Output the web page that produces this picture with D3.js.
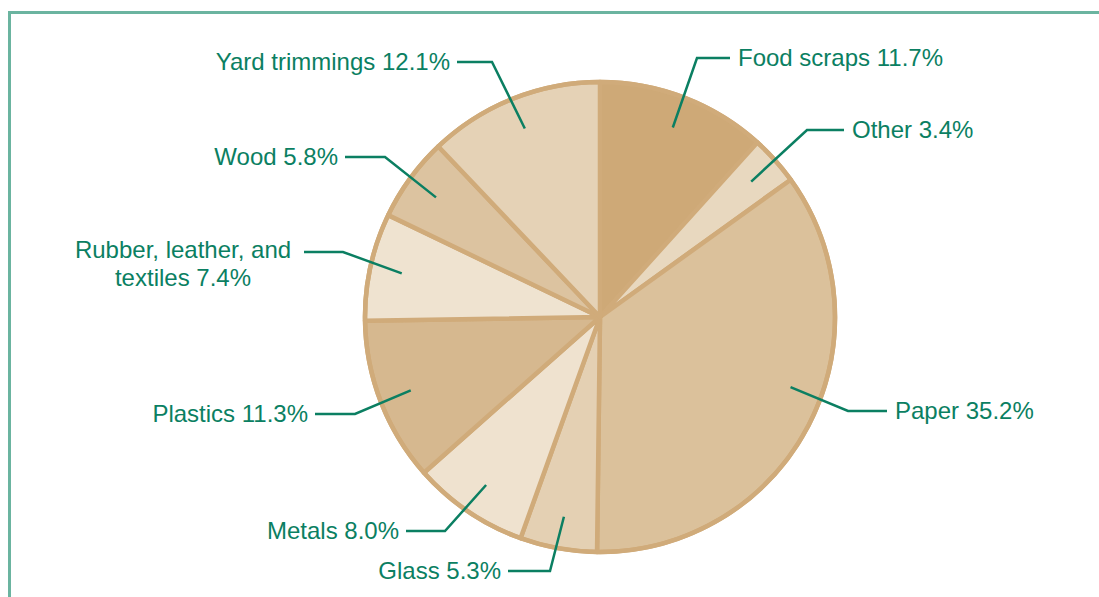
<!DOCTYPE html>
<html>
<head>
<meta charset="utf-8">
<script src="https://cdn.jsdelivr.net/npm/d3@7/dist/d3.min.js"></script>
<style>
  html, body { margin: 0; padding: 0; background: #ffffff; }
  svg { display: block; }
</style>
</head>
<body>
<svg id="chart" width="1099" height="597"></svg>
<script>
// ---- data ----
const categories = ["Food scraps", "Other", "Paper", "Glass", "Metals", "Plastics", "Rubber, leather, and textiles", "Wood", "Yard trimmings"];
const values = [11.7, 3.4, 35.2, 5.3, 8.0, 11.3, 7.4, 5.8, 12.1];
const labelTexts = [
  ["Food scraps 11.7%"],
  ["Other 3.4%"],
  ["Paper 35.2%"],
  ["Glass 5.3%"],
  ["Metals 8.0%"],
  ["Plastics 11.3%"],
  ["Rubber, leather, and", "textiles 7.4%"],
  ["Wood 5.8%"],
  ["Yard trimmings 12.1%"]
];

// ---- styles / layout ----
const fills = ["#cea977", "#e8d8bf", "#dbc19b", "#e4d0b3", "#efe2cf", "#d6b88f", "#efe3d0", "#dcc3a0", "#e5d2b6"];
const sliceStroke = "#d0ab7a";
const green = "#0b7f62";
const cx = 600, cy = 317, R = 235, leaderR = 203;
const labelLayout = [
  { kx: 697, ky: 58,  ex: 730, side: "right" },
  { kx: 807, ky: 130, ex: 844, side: "right" },
  { kx: 848, ky: 411, ex: 887, side: "right", shift: -7.3 },
  { kx: 550, ky: 571, ex: 508, side: "left" },
  { kx: 445, ky: 531, ex: 406, side: "left" },
  { kx: 355, ky: 414, ex: 315, side: "left" },
  { kx: 343, ky: 252, ex: 304, side: "left", tx: 183, anchor: "middle", lineGap: 28, dyFirst: 6 },
  { kx: 385, ky: 157, ex: 345, side: "left" },
  { kx: 492, ky: 62,  ex: 457, side: "left" }
];

const svg = d3.select("#chart");

// frame
svg.append("line").attr("x1", 8).attr("x2", 1099).attr("y1", 12.5).attr("y2", 12.5)
  .attr("stroke", "#6bb4a0").attr("stroke-width", 3);
svg.append("line").attr("x1", 9.5).attr("x2", 9.5).attr("y1", 11).attr("y2", 597)
  .attr("stroke", "#6bb4a0").attr("stroke-width", 3);

const pie = d3.pie().sort(null).value(d => d)
  .startAngle(0).endAngle(2 * Math.PI * d3.sum(values) / 100);
const arcs = pie(values);
const arc = d3.arc().innerRadius(0).outerRadius(R);

const g = svg.append("g").attr("transform", `translate(${cx},${cy})`);
g.selectAll("path.slice").data(arcs).enter().append("path")
  .attr("class", "slice")
  .attr("d", arc)
  .attr("fill", (d, i) => fills[i])
  .attr("stroke", sliceStroke)
  .attr("stroke-width", 4.5)
  .attr("stroke-linejoin", "round");
g.append("circle").attr("r", R).attr("fill", "none")
  .attr("stroke", sliceStroke).attr("stroke-width", 4.5);

// leaders & labels
const lg = svg.append("g");
arcs.forEach((d, i) => {
  const L = labelLayout[i];
  const a = (d.startAngle + d.endAngle) / 2 + (L.shift || 0) * Math.PI / 180;
  const px = cx + leaderR * Math.sin(a);
  const py = cy - leaderR * Math.cos(a);
  lg.append("polyline")
    .attr("points", `${px},${py} ${L.kx},${L.ky} ${L.ex},${L.ky}`)
    .attr("fill", "none").attr("stroke", green).attr("stroke-width", 2.5);
  const anchor = L.anchor || (L.side === "right" ? "start" : "end");
  const tx = L.tx !== undefined ? L.tx : (L.side === "right" ? L.ex + 8 : L.ex - 7);
  const lines = labelTexts[i];
  const t = lg.append("text")
    .attr("x", tx).attr("y", L.ky + (L.dyFirst !== undefined ? L.dyFirst : 8))
    .attr("text-anchor", anchor)
    .attr("font-family", "Liberation Sans, Arial, sans-serif")
    .attr("font-size", 24)
    .attr("fill", green);
  lines.forEach((s, j) => {
    t.append("tspan").attr("x", tx).attr("dy", j === 0 ? 0 : (L.lineGap || 28)).text(s);
  });
});
</script>
</body>
</html>
